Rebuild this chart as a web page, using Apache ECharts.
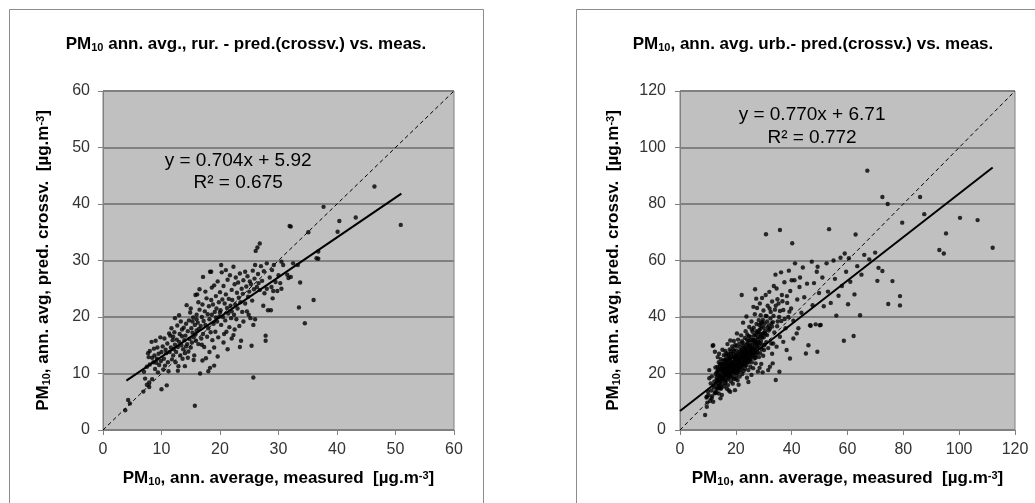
<!DOCTYPE html>
<html>
<head>
<meta charset="utf-8">
<script src="https://cdn.jsdelivr.net/npm/echarts@6/dist/echarts.min.js"></script>
<style>
html,body{margin:0;padding:0;background:#fff;}
#c{width:1035px;height:503px;}
</style>
</head>
<body>
<div id="c"></div>
<script>
// ---------- DATA ----------
const ruralTicks = [0, 10, 20, 30, 40, 50, 60];
const urbanTicks = [0, 20, 40, 60, 80, 100, 120];
const ruralTrend = { slope: 0.704, intercept: 5.92, xFrom: 4, xTo: 51, r2: 0.675 };
const urbanTrend = { slope: 0.770, intercept: 6.71, xFrom: 0, xTo: 112, r2: 0.772 };
const ruralEqAnchor = [23.1, 47.6, 43.7];
const urbanEqAnchor = [47.3, 111.5, 103.4];

const ruralPoints = [
[3.8,3.5],[4.3,5.3],[4.6,4.7],[6.9,6.8],[7.2,9.1],[7.5,8.0],[7.9,8.4],[7.9,7.6],[7.0,10.3],[7.5,11.2],[7.8,12.9],[7.7,13.6],[8.0,11.6],[8.3,15.6],[8.0,14.0],[8.4,9.0],
[8.6,12.0],[8.8,13.2],[8.9,10.8],[9.0,15.8],[9.2,12.6],[9.3,14.6],[9.5,13.5],[9.6,11.5],[9.8,16.4],[9.9,12.2],[10.0,7.2],[10.0,13.8],[9.4,10.2],[8.7,14.4],[9.1,11.9],[8.4,12.8],
[10.2,14.8],[10.4,12.6],[10.5,16.2],[10.6,11.4],[10.9,7.9],[10.8,13.6],[11.0,15.3],[11.1,12.0],[11.3,17.1],[11.4,13.8],[11.5,16.7],[11.6,14.6],[11.8,12.5],[11.9,15.9],[12.0,13.2],[10.3,10.7],[11.2,10.4],[11.7,18.0],[12.0,16.5],[10.7,14.2],
[12.1,14.3],[12.2,17.3],[12.3,15.1],[12.4,12.0],[12.5,13.8],[12.6,16.0],[12.7,18.5],[12.8,14.7],[12.9,11.3],[13.0,15.6],[13.1,17.0],[13.2,13.2],[13.3,19.2],[13.4,15.0],[13.5,16.6],[13.6,12.6],[13.7,14.3],[13.8,18.1],[13.9,15.9],[14.0,11.3],[14.0,13.6],[12.3,19.8],[13.0,20.3],[12.8,10.5],[13.5,17.8],
[14.1,16.7],[14.2,18.8],[14.3,22.1],[14.4,15.2],[14.5,17.5],[14.6,13.9],[14.7,19.4],[14.8,16.1],[14.9,20.8],[15.0,14.6],[15.1,18.0],[15.2,15.5],[15.3,17.2],[15.4,19.9],[15.5,16.4],[15.6,13.2],[15.7,4.3],[15.7,18.6],[15.8,23.9],[15.9,15.8],[16.0,17.6],[16.0,20.4],[14.5,12.8],[15.0,21.5],[15.5,12.4],[14.2,14.8],[15.3,19.2],[15.8,16.9],
[16.1,24.0],[16.2,19.0],[16.3,15.2],[16.4,17.9],[16.5,24.9],[16.5,21.3],[16.6,10.0],[16.7,18.4],[16.8,16.2],[16.9,20.0],[17.0,22.2],[17.1,27.1],[17.1,17.0],[17.2,19.3],[17.3,14.7],[17.4,21.0],[17.5,18.6],[17.6,12.7],[17.7,23.3],[17.8,16.5],[17.9,20.5],[18.0,10.4],[18.0,18.0],[16.3,22.6],[17.0,12.3],[16.9,15.1],[17.5,24.5],[16.0,19.6],
[18.1,21.9],[18.2,19.6],[18.3,28.0],[18.3,11.0],[18.4,17.3],[18.5,28.0],[18.5,23.0],[18.6,20.4],[18.7,15.9],[18.8,22.2],[18.9,18.8],[19.0,11.4],[19.0,25.6],[19.1,20.9],[19.2,17.4],[19.3,23.7],[19.4,21.5],[19.5,19.2],[19.6,26.3],[19.7,16.4],[19.8,22.6],[19.9,20.1],[20.0,24.4],[18.2,13.8],[19.0,14.6],[19.6,13.0],[18.6,25.2],[19.3,19.9],
[20.1,21.2],[20.2,29.2],[20.2,18.6],[20.3,27.9],[20.4,23.1],[20.5,20.0],[20.6,25.5],[20.7,17.0],[20.8,22.4],[20.9,19.4],[21.0,24.0],[21.1,17.4],[21.2,21.6],[21.3,26.6],[21.4,20.6],[21.5,23.2],[21.6,18.2],[21.7,27.4],[21.8,22.0],[21.9,19.8],[22.0,16.2],[22.0,24.8],[20.6,15.5],[21.3,14.3],[21.0,28.3],[20.0,20.8],[22.0,21.0],
[22.1,23.0],[22.3,28.9],[22.3,16.8],[22.4,20.4],[22.5,25.8],[22.6,22.2],[22.7,27.0],[22.8,19.6],[22.9,24.3],[23.0,21.5],[23.1,26.1],[23.2,23.4],[23.4,27.7],[23.4,14.7],[23.5,22.6],[23.6,15.8],[23.7,25.0],[23.8,20.9],[23.9,24.1],[24.0,19.2],[24.0,26.5],[22.5,17.8],[23.3,18.4],[24.3,28.0],
[24.3,22.4],[24.5,25.4],[24.6,21.0],[24.7,27.2],[24.8,23.6],[25.0,24.5],[25.1,26.3],[25.2,19.8],[25.3,25.8],[25.4,14.9],[25.5,22.9],[25.6,28.2],[25.7,9.3],[25.7,18.6],[25.8,24.9],[25.9,26.8],[26.0,19.6],[26.0,29.2],[24.9,20.4],
[26.1,31.7],[26.3,25.3],[26.4,32.3],[26.5,27.6],[26.8,33.0],[26.8,24.8],[27.0,29.0],[27.2,26.4],[27.4,22.0],[27.5,28.1],[27.8,16.7],[27.8,15.8],[28.0,29.5],[28.0,25.0],[26.6,26.0],[27.6,24.2],
[28.2,21.2],[28.5,27.0],[28.7,21.2],[28.8,25.3],[29.0,23.3],[29.1,24.6],[29.2,29.2],[29.5,26.2],[29.8,24.6],[30.0,27.4],[28.9,28.3],
[30.5,25.0],[30.5,29.8],[30.8,29.2],[31.5,27.5],[31.7,26.9],[32.1,27.1],[31.9,36.1],[32.1,36.0],[32.5,29.5],[33.3,29.2],[33.5,21.7],[33.7,26.1],[30.3,26.0],
[34.5,18.9],[35.1,35.0],[36.0,23.0],[36.5,30.4],[36.8,31.6],[36.8,30.3],[37.7,39.5],[40.1,35.1],[40.4,37.0],[43.2,37.6],[46.4,43.1],[50.9,36.3]
];

const urbanPoints = [
[9.0,5.3],[9.5,11.5],[9.6,8.2],[10.2,12.4],[10.5,21.2],[10.5,18.3],[10.8,10.3],[11.2,14.0],[11.5,12.0],[11.7,29.8],[11.9,30.0],[12.5,27.7],[11.0,16.5],[12.0,15.8],[12.3,17.2],[12.6,13.4],[11.4,19.0],[10.0,13.6],[9.8,9.7],[12.8,19.8],
[9.6,11.8],[11.3,11.2],[11.9,10.0],[12.5,13.0],[14.3,15.9],[13.4,14.7],
[13.0,16.4],[13.1,18.6],[13.2,20.5],[13.3,14.7],[13.4,22.3],[13.5,17.5],[13.6,19.4],[13.7,15.6],[13.8,21.2],[13.9,24.0],[14.0,18.0],[14.1,16.8],[14.2,20.1],[14.3,22.6],[14.4,19.0],[14.5,11.2],[14.5,17.2],[14.6,25.1],[14.7,21.5],[14.8,15.0],[14.9,23.3],[15.0,12.4],[15.0,18.7],[15.1,20.6],[15.2,16.3],[15.3,24.4],[15.4,22.0],[15.5,19.6],[15.6,17.8],[15.7,26.5],[15.8,21.0],[15.9,15.4],[13.5,25.8],[14.0,27.0],[15.2,28.4],
[16.0,18.9],[16.1,23.1],[16.2,20.7],[16.3,16.6],[16.4,25.0],[16.5,22.3],[16.6,19.5],[16.7,27.2],[16.8,17.7],[16.9,21.8],[17.0,24.2],[17.1,20.0],[17.2,15.9],[17.3,23.0],[17.4,18.4],[17.5,26.0],[17.6,21.4],[17.7,19.1],[17.8,28.5],[17.9,22.7],[18.0,13.5],[18.0,24.8],[18.1,20.3],[18.2,17.2],[18.3,26.9],[18.4,22.1],[18.5,19.3],[18.6,24.0],[18.7,29.6],[18.8,21.0],[18.9,16.4],[16.2,28.0],[17.0,30.4],[18.0,31.7],[16.8,14.6],[17.5,14.0],
[19.0,23.4],[19.1,20.5],[19.2,25.7],[19.3,18.0],[19.4,27.9],[19.5,22.0],[19.6,24.6],[19.7,14.1],[19.7,20.8],[19.8,30.1],[19.9,26.3],[20.0,22.9],[20.1,19.2],[20.2,25.1],[20.3,28.2],[20.4,21.5],[20.5,23.8],[20.6,17.6],[20.7,26.9],[20.8,32.0],[20.9,24.3],[21.0,20.6],[21.1,22.6],[21.2,27.6],[21.3,25.0],[21.4,18.9],[21.5,29.3],[21.6,23.5],[21.7,21.1],[21.8,26.1],[21.9,33.5],[19.3,31.5],[20.4,34.2],[21.0,16.0],
[22.0,24.6],[22.1,47.8],[22.1,22.0],[22.2,28.4],[22.3,19.8],[22.4,26.7],[22.5,30.9],[22.6,23.3],[22.7,25.6],[22.8,20.9],[22.9,29.0],[23.0,27.3],[23.1,24.0],[23.2,32.6],[23.3,21.7],[23.4,26.0],[23.5,35.0],[23.6,28.0],[23.7,22.8],[23.8,30.3],[23.9,25.3],[24.0,18.5],[24.0,27.6],[24.1,33.8],[24.2,23.9],[24.3,29.5],[24.4,26.4],[24.5,21.2],[24.6,31.6],[24.7,28.7],[24.8,36.5],[24.9,24.9],[22.6,38.0],[23.8,40.2],[24.5,17.0],
[25.0,27.0],[25.1,30.1],[25.2,22.4],[25.3,33.0],[25.4,25.7],[25.5,28.8],[25.6,38.4],[25.7,24.0],[25.8,31.3],[25.9,26.5],[26.0,34.8],[26.1,29.2],[26.2,21.9],[26.3,27.8],[26.4,36.2],[26.5,32.0],[26.6,25.3],[26.7,30.6],[26.8,41.0],[26.9,49.8],[26.9,28.1],[27.0,33.7],[27.1,23.6],[27.2,31.0],[27.3,26.9],[27.4,37.5],[27.5,29.6],[27.6,43.2],[27.7,34.4],[27.8,27.4],[27.9,20.7],[25.6,19.5],[26.3,43.6],[27.3,46.5],
[28.0,32.2],[28.1,29.0],[28.2,38.9],[28.3,25.8],[28.4,35.3],[28.5,30.8],[28.6,44.8],[28.7,27.2],[28.8,33.1],[28.9,40.6],[29.0,31.5],[29.1,23.4],[29.2,36.7],[29.3,28.6],[29.4,46.7],[29.5,34.0],[29.6,30.2],[29.7,39.0],[29.8,26.3],[29.9,42.3],[30.0,32.8],[30.1,28.3],[30.3,37.6],[30.5,35.0],[30.8,69.3],[30.7,47.8],[30.9,31.1],[28.5,22.0],[29.6,20.4],
[31.0,40.3],[31.2,33.6],[31.4,44.0],[31.6,21.2],[31.6,29.0],[31.8,37.0],[32.0,48.9],[32.2,22.4],[32.2,35.8],[32.5,41.8],[32.7,30.6],[33.0,45.5],[33.2,23.6],[33.3,38.2],[33.4,30.6],[33.6,51.0],[33.8,34.5],[34.0,42.6],[34.3,17.7],[34.6,29.5],[34.6,50.1],[34.8,36.7],[34.9,46.3],[35.3,44.8],[35.6,20.6],[35.8,33.0],[35.8,70.8],[35.5,40.0],[34.2,55.0],[33.0,27.0],
[36.2,55.8],[36.3,38.6],[36.5,47.8],[37.0,31.2],[37.0,42.5],[37.4,52.3],[37.8,36.0],[38.2,28.3],[38.4,45.0],[38.8,40.0],[39.0,56.4],[39.4,25.3],[39.5,49.2],[39.8,43.0],[40.0,53.0],[40.2,66.1],[40.6,32.4],[40.6,38.7],[41.0,53.0],[41.2,59.0],[41.8,34.2],[42.0,46.2],[42.4,36.0],[42.8,50.6],[43.0,54.0],[43.5,41.5],[44.0,57.5],[44.5,47.0],[45.1,27.1],[45.5,51.8],[46.0,30.0],[46.6,37.1],[46.8,36.9],[47.2,59.6],[47.5,44.2],[48.0,52.0],[48.6,37.4],[49.0,56.0],[49.2,27.7],[49.3,57.8],[49.8,48.5],[50.1,37.1],[50.4,37.2],[51.0,54.0],[51.5,43.8],[52.5,59.0],[53.0,49.0],[53.4,71.1],[54.0,45.0],[55.0,60.0],[55.5,53.5],[56.0,40.5],[56.8,47.5],[57.5,61.0],[58.0,51.0],[58.7,31.6],[59.0,62.5],[59.5,56.0],[60.2,44.5],[60.5,60.8],[61.0,52.5],[62.2,33.3],[62.5,48.0],[62.9,69.2],[63.5,58.0],[64.5,40.6],[65.0,55.0],[66.0,62.0],[67.1,91.8],[67.8,60.4],[69.9,62.8],[70.7,52.8],[71.1,57.4],[72.5,56.3],[72.5,82.5],[74.4,80.0],[74.6,44.6],[76.1,52.7],[78.8,47.4],[78.8,44.1],[79.6,73.4],[86.0,82.5],[87.5,76.4],[92.9,63.7],[94.5,62.5],[95.3,69.6],[100.3,75.1],[106.6,74.3],[112.0,64.5],
[15.3,21.3],[15.8,23.6],[16.4,19.9],[16.9,24.7],[17.2,22.5],[17.7,25.4],[18.1,23.2],[18.5,21.6],[18.9,25.8],[19.2,24.1],[19.6,21.2],[20.1,26.7],[20.3,24.0],[20.7,22.3],[21.0,25.5],[21.4,23.8],[21.8,28.0],[22.1,25.7],[22.4,23.0],[22.8,27.1],[23.1,26.2],[23.5,24.4],[23.9,28.6],[24.3,25.8],[24.7,27.3],[25.1,25.0],[25.5,27.7],[25.9,30.0],[26.4,28.5],[26.8,26.0],[27.3,30.3],[27.8,32.9],[28.3,30.0],[28.8,35.8],[29.4,32.7],[30.0,36.2],[30.6,33.9],[31.2,38.4],[31.8,35.2],[32.4,39.5],[33.0,36.6],[14.2,19.1],[14.8,21.8],[15.6,20.2],[16.6,23.5],[17.4,20.9],[18.3,22.8],[19.0,27.0],[19.8,23.0],[20.6,20.2],[21.6,26.8],[22.6,29.9],[23.3,23.0],[24.2,30.7],[25.2,28.0],[26.2,31.9],[27.0,28.9],[28.0,34.6],[29.0,37.9],[30.2,30.0],
[13.2,17.8],[13.6,21.0],[14.0,15.2],[14.4,23.4],[14.9,17.9],[15.1,22.7],[15.5,18.3],[15.9,24.8],[16.2,17.4],[16.5,26.3],[16.8,20.5],[17.1,18.7],[17.3,26.8],[17.7,23.9],[18.0,19.9],[18.2,27.8],[18.6,23.4],[18.8,18.6],[19.1,28.6],[19.4,22.6],[19.8,25.4],[20.0,18.2],[20.2,29.7],[20.5,25.9],[20.9,21.6],[21.2,30.5],[21.5,24.6],[21.9,22.4],[22.2,31.4],[22.5,27.6],[22.9,24.9],[23.2,29.3],[23.6,26.7],[23.9,32.0],[24.2,27.2],[24.6,33.2],[24.9,29.7],[25.3,31.8],[25.7,35.6],[26.0,27.4],[26.5,33.4],[26.9,31.6],[27.4,35.0],[27.9,31.1],[28.4,37.2],[28.9,33.9],[29.5,38.2],[30.1,34.4],[30.7,40.4],[31.4,36.2],[32.1,43.0],[32.8,37.8],[33.5,40.4],[34.3,44.0],[35.0,38.4],[35.8,42.1],[36.7,45.6],[37.5,39.3],[38.3,47.4],[39.2,41.9],[16.0,21.7],[17.0,21.4],[18.1,25.5],[19.5,20.3],[20.8,23.5],[22.0,26.2],[23.4,28.1],[24.5,24.0],[25.8,28.6],[27.1,25.6],[12.2,15.0],[13.0,13.3],[14.6,14.6],[12.7,22.1],[13.9,12.9]
];

// ---------- CHART ----------
const FONT = "'Liberation Sans', Arial, sans-serif";
const chart = echarts.init(document.getElementById('c'), null, { renderer: 'canvas' });

function makeRich(size) {
  const base = { fontFamily: FONT, fontWeight: 'bold', color: '#000' };
  return {
    m: Object.assign({}, base, { fontSize: size, verticalAlign: 'top', lineHeight: size + 3 }),
    sub: Object.assign({}, base, { fontSize: Math.round(size * 0.62), verticalAlign: 'top', lineHeight: size + 3, padding: [6, 0, 0, 0] }),
    sup: Object.assign({}, base, { fontSize: Math.round(size * 0.62), verticalAlign: 'top', lineHeight: Math.round(size * 0.7) })
  };
}
const nameRich = makeRich(17);
const titleRich = makeRich(17);

function trendLine(t) {
  return [[t.xFrom, t.slope * t.xFrom + t.intercept], [t.xTo, t.slope * t.xTo + t.intercept]];
}

function axisCommon(ticks, isX, margin) {
  const max = ticks[ticks.length - 1];
  const interval = ticks[1] - ticks[0];
  return {
    type: 'value', min: ticks[0], max: max, interval: interval,
    axisLine: { show: true, onZero: false, lineStyle: { color: '#808080', width: 1 } },
    axisTick: { show: true, inside: false, length: 5, lineStyle: { color: '#808080' } },
    axisLabel: { fontFamily: FONT, fontSize: 16, color: '#333', margin: margin },
    splitLine: { show: !isX, lineStyle: { color: '#808080', width: 2 } },
    nameLocation: 'middle',
    nameTextStyle: { fontFamily: FONT, fontSize: 17, fontWeight: 'bold', color: '#000', rich: nameRich }
  };
}

const xName = '{m|PM}{sub|10}{m|, ann. average, measured  [µg.m}{sup|-3}{m|]}';
const yName = '{m|PM}{sub|10}{m|, ann. avg, pred. crossv.  [µg.m}{sup|-3}{m|]}';

const option = {
  animation: false,
  grid: [
    { left: 103, top: 91, width: 351, height: 339, show: true, backgroundColor: '#c0c0c0', borderColor: '#808080', borderWidth: 1 },
    { left: 680, top: 91, width: 335, height: 339, show: true, backgroundColor: '#c0c0c0', borderColor: '#808080', borderWidth: 1 }
  ],
  xAxis: [
    Object.assign(axisCommon(ruralTicks, true, 12), { gridIndex: 0, name: xName, nameGap: 40 }),
    Object.assign(axisCommon(urbanTicks, true, 12), { gridIndex: 1, name: xName, nameGap: 40 })
  ],
  yAxis: [
    Object.assign(axisCommon(ruralTicks, false, 13), { gridIndex: 0, name: yName, nameGap: 48 }),
    Object.assign(axisCommon(urbanTicks, false, 14), { gridIndex: 1, name: yName, nameGap: 55 })
  ],
  series: [
    { type: 'line', xAxisIndex: 0, yAxisIndex: 0, data: [[ruralTicks[0], ruralTicks[0]], [ruralTicks[6], ruralTicks[6]]], symbol: 'none', silent: true,
      lineStyle: { color: '#000', width: 1, type: [4, 3] }, z: 2 },
    { type: 'scatter', xAxisIndex: 0, yAxisIndex: 0, data: ruralPoints, symbolSize: 4.4, itemStyle: { color: '#000' }, z: 3 },
    { type: 'line', xAxisIndex: 0, yAxisIndex: 0, data: trendLine(ruralTrend), symbol: 'none', silent: true,
      lineStyle: { color: '#000', width: 2 }, z: 4 },
    { type: 'line', xAxisIndex: 1, yAxisIndex: 1, data: [[urbanTicks[0], urbanTicks[0]], [urbanTicks[6], urbanTicks[6]]], symbol: 'none', silent: true,
      lineStyle: { color: '#000', width: 1, type: [4, 3] }, z: 2 },
    { type: 'scatter', xAxisIndex: 1, yAxisIndex: 1, data: urbanPoints, symbolSize: 4.4, itemStyle: { color: '#000' }, z: 3 },
    { type: 'line', xAxisIndex: 1, yAxisIndex: 1, data: trendLine(urbanTrend), symbol: 'none', silent: true,
      lineStyle: { color: '#000', width: 2 }, z: 4 }
  ]
};
chart.setOption(option);

function eqText(t) {
  return 'y = ' + t.slope.toFixed(3) + 'x + ' + t.intercept.toFixed(2);
}
const pL1 = chart.convertToPixel({ gridIndex: 0 }, [ruralEqAnchor[0], ruralEqAnchor[1]]);
const pL2 = chart.convertToPixel({ gridIndex: 0 }, [ruralEqAnchor[0], ruralEqAnchor[2]]);
const pR1 = chart.convertToPixel({ gridIndex: 1 }, [urbanEqAnchor[0], urbanEqAnchor[1]]);
const pR2 = chart.convertToPixel({ gridIndex: 1 }, [urbanEqAnchor[0], urbanEqAnchor[2]]);

const eqStyle = (x, y, txt) => ({
  type: 'text', x: x, y: y, z: 100,
  style: { text: txt, fontFamily: FONT, fontSize: 19, fill: '#000', textAlign: 'center', textVerticalAlign: 'middle' }
});
const titleStyle = (x, txt) => ({
  type: 'text', x: x, y: 46, z: 100,
  style: { text: txt, fontFamily: FONT, fontSize: 17, fontWeight: 'bold', fill: '#000', textAlign: 'center', textVerticalAlign: 'middle', rich: titleRich }
});

chart.setOption({
  graphic: [
    { type: 'rect', z: 0, shape: { x: 9.5, y: 9.5, width: 474, height: 520 }, style: { fill: 'none', stroke: '#8c8c8c', lineWidth: 1 } },
    { type: 'rect', z: 0, shape: { x: 576.5, y: 9.5, width: 480, height: 520 }, style: { fill: 'none', stroke: '#8c8c8c', lineWidth: 1 } },
    titleStyle(246, '{m|PM}{sub|10}{m| ann. avg., rur. - pred.(crossv.) vs. meas.}'),
    titleStyle(813, '{m|PM}{sub|10}{m|, ann. avg. urb.- pred.(crossv.) vs. meas.}'),
    eqStyle(pL1[0], pL1[1], eqText(ruralTrend)),
    eqStyle(pL2[0], pL2[1], 'R² = ' + ruralTrend.r2.toFixed(3)),
    eqStyle(pR1[0], pR1[1], eqText(urbanTrend)),
    eqStyle(pR2[0], pR2[1], 'R² = ' + urbanTrend.r2.toFixed(3))
  ]
});
</script>
</body>
</html>
